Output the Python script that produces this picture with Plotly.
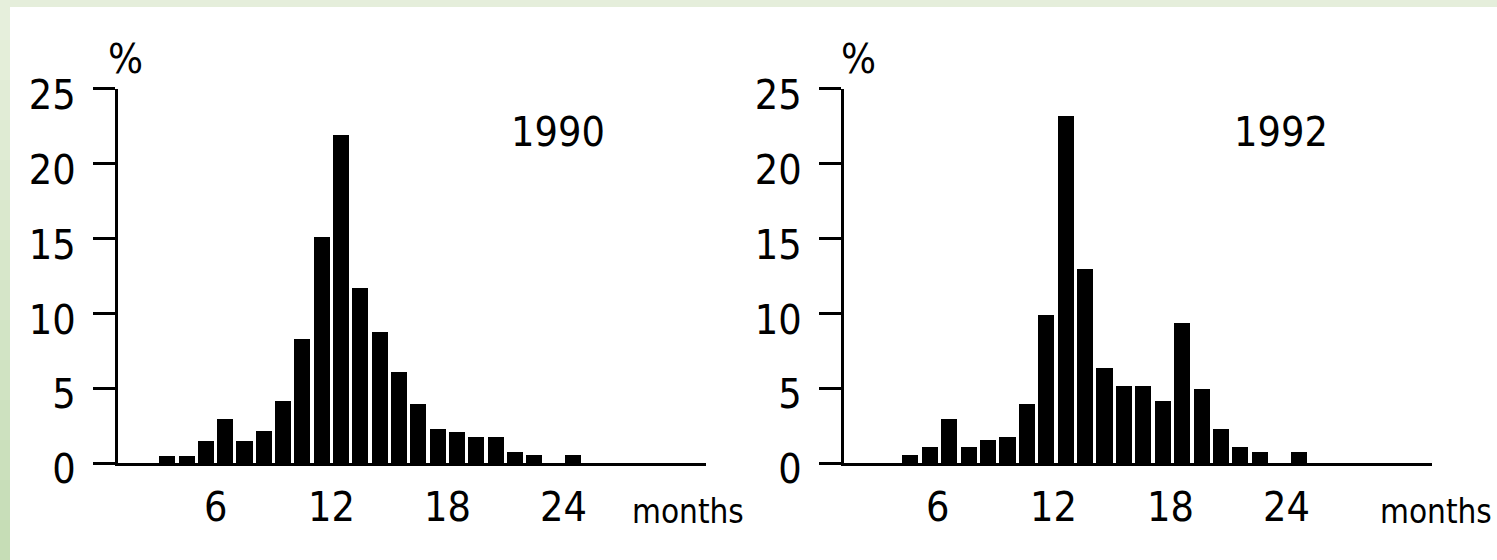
import plotly.graph_objects as go

# ---- data ----
months_1990 = [3, 4, 5, 6, 7, 8, 9, 10, 11, 12, 13, 14, 15, 16, 17, 18, 19, 20, 21, 22, 24]
pct_1990 = [0.5, 0.5, 1.5, 3.0, 1.5, 2.2, 4.2, 8.3, 15.1, 21.9, 11.7, 8.8, 6.1, 4.0,
            2.3, 2.1, 1.8, 1.8, 0.8, 0.6, 0.6]

months_1992 = [4, 5, 6, 7, 8, 9, 10, 11, 12, 13, 14, 15, 16, 17, 18, 19, 20, 21, 22, 24]
pct_1992 = [0.6, 1.1, 3.0, 1.1, 1.6, 1.8, 4.0, 9.9, 23.2, 13.0, 6.4, 5.2, 5.2, 4.2,
            9.4, 5.0, 2.3, 1.1, 0.8, 0.8]

y_ticks = [0, 5, 10, 15, 20, 25]
x_ticks = [6, 12, 18, 24]
x_tick_text = ["6", "12", "18", "24"]
years = ["1990", "1992"]
y_unit = "%"
x_unit = "months"

# ---- style ----
W, H = 1497, 560
FONT = "Liberation Sans Narrow, Arial Narrow, DejaVu Sans Condensed, sans-serif"
BIG = 41

panels = [
    dict(x=months_1990, y=pct_1990, dom=(118, 706), rng=(0.45, 30.9), lab_off=-0.5,
         year_px=558, months_right_px=746, pct_px=125, xa="x", ya="y"),
    dict(x=months_1992, y=pct_1992, dom=(844, 1432), rng=(0.58, 30.87), lab_off=-0.62,
         year_px=1281, months_right_px=1494, pct_px=858, xa="x2", ya="y2"),
]
Y0_PX, Y25_PX = 463, 88.5


def xpaper(month, p):
    d0, d1 = p["dom"]
    r0, r1 = p["rng"]
    return (d0 + (month - r0) / (r1 - r0) * (d1 - d0)) / W


fig = go.Figure()
layout = dict(
    width=W, height=H, margin=dict(l=0, r=0, t=0, b=0, autoexpand=False),
    paper_bgcolor="#e5eedb", plot_bgcolor="rgba(0,0,0,0)",
    showlegend=False, bargap=0,
    font=dict(family=FONT, color="black", size=BIG),
)

annotations = []
shapes = [dict(type="rect", xref="paper", yref="paper", x0=10 / W, x1=1, y0=0,
               y1=(H - 7) / H, fillcolor="white", line=dict(width=0), layer="below")]
# gradient on left band
n = 14
c0 = (0xe6, 0xef, 0xdc)
c1 = (0xc6, 0xdd, 0xb6)
for i in range(n):
    t = i / (n - 1)
    c = tuple(int(round(c0[k] + (c1[k] - c0[k]) * t)) for k in range(3))
    shapes.append(dict(type="rect", xref="paper", yref="paper", x0=0, x1=10 / W,
                       y1=1 - i / n, y0=1 - (i + 1) / n,
                       fillcolor="rgb(%d,%d,%d)" % c, line=dict(width=0), layer="below"))

y_dom = ((H - Y0_PX) / H, (H - Y25_PX) / H)

for k, p in enumerate(panels):
    fig.add_trace(go.Bar(x=p["x"], y=p["y"], xaxis=p["xa"], yaxis=p["ya"],
                         width=0.83, marker=dict(color="black", line=dict(width=0)),
                         hoverinfo="x+y"))
    sfx = "" if k == 0 else "2"
    layout["xaxis" + sfx] = dict(
        domain=[p["dom"][0] / W, p["dom"][1] / W], range=list(p["rng"]),
        anchor="y" + sfx, showline=True, linecolor="black", linewidth=3,
        ticks="", showticklabels=False, showgrid=False, zeroline=False,
        fixedrange=True, automargin=False)
    layout["yaxis" + sfx] = dict(
        domain=list(y_dom), range=[0, 25], anchor="x" + sfx,
        showline=True, linecolor="black", linewidth=3,
        ticks="outside", ticklen=22, tickwidth=3, tickcolor="black",
        tickvals=y_ticks, ticktext=[str(v) for v in y_ticks],
        tickfont=dict(family=FONT, size=BIG, color="black"),
        ticklabelshift=6, ticklabelstandoff=9,
        showgrid=False, zeroline=False, fixedrange=True, automargin=False)
    for tv, tt in zip(x_ticks, x_tick_text):
        annotations.append(dict(x=xpaper(tv + p["lab_off"], p), y=1 - 507 / H,
                                xref="paper", yref="paper", text=tt,
                                showarrow=False, xanchor="center", yanchor="middle",
                                font=dict(family=FONT, size=BIG)))
    annotations.append(dict(x=p["months_right_px"] / W, y=1 - 511 / H, xref="paper",
                            yref="paper", text=x_unit, showarrow=False,
                            xanchor="right", yanchor="middle",
                            font=dict(family=FONT, size=33)))
    annotations.append(dict(x=p["year_px"] / W, y=1 - 132 / H, xref="paper", yref="paper",
                            text=years[k], showarrow=False, xanchor="center", yanchor="middle",
                            font=dict(family=FONT, size=BIG)))
    annotations.append(dict(x=p["pct_px"] / W, y=1 - 59 / H, xref="paper", yref="paper",
                            text=y_unit, showarrow=False, xanchor="center", yanchor="middle",
                            font=dict(family=FONT, size=BIG)))

layout["annotations"] = annotations
layout["shapes"] = shapes
fig.update_layout(**layout)

fig.write_html("out.html", config={"displayModeBar": False},
               post_script="document.body.style.margin='0';document.body.style.overflow='hidden';")
